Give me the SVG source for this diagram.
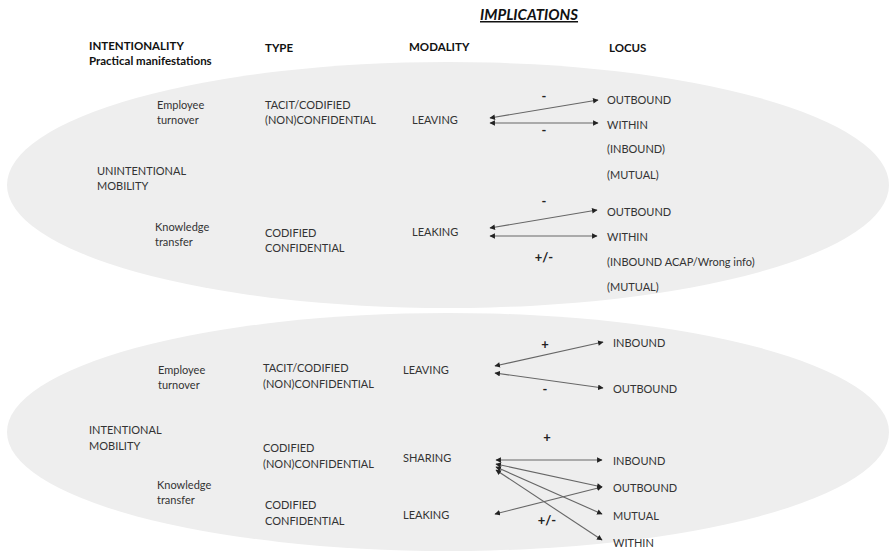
<svg xmlns="http://www.w3.org/2000/svg" width="889" height="559" viewBox="0 0 889 559">
  <style>
    .t { font-family: Lato, "Liberation Sans", sans-serif; font-size: 11px; fill: #333; }
    .h { font-family: Lato, "Liberation Sans", sans-serif; font-size: 11.5px; font-weight: bold; fill: #111; }
    .sign { font-family: Lato, "Liberation Sans", sans-serif; font-size: 13px; font-weight: bold; fill: #222; text-anchor: middle; }
    .zone { fill: #eeeeee; }
    .link { stroke: #666; stroke-width: 1.1; fill: none; marker-start: url(#head); marker-end: url(#head); }
  </style>
  <defs>
    <marker id="head" viewBox="0 0 10 10" refX="9" refY="5" markerWidth="6" markerHeight="5.5" markerUnits="userSpaceOnUse" orient="auto-start-reverse">
      <path d="M0,0 L10,5 L0,10 Z" fill="#222"/>
    </marker>
  </defs>

  <rect width="889" height="559" fill="#ffffff"/>

  <!-- mobility zones -->
  <g id="zone-unintentional">
    <ellipse class="zone" cx="448" cy="185" rx="441" ry="123"/>
  </g>
  <g id="zone-intentional">
    <ellipse class="zone" cx="448" cy="432" rx="441" ry="119"/>
  </g>

  <!-- column headers -->
  <g id="headers">
    <text x="480" y="20" font-family="Lato, 'Liberation Sans', sans-serif" font-size="15" font-weight="bold" font-style="italic" text-decoration="underline" fill="#111">IMPLICATIONS</text>
    <text class="h" x="89" y="50">INTENTIONALITY</text>
    <text class="h" x="89" y="65">Practical manifestations</text>
    <text class="h" x="265" y="52">TYPE</text>
    <text class="h" x="409" y="51">MODALITY</text>
    <text class="h" x="609" y="52">LOCUS</text>
  </g>

  <!-- unintentional mobility -->
  <g id="unintentional">
    <text class="t" x="97" y="175">UNINTENTIONAL</text>
    <text class="t" x="97" y="190">MOBILITY</text>
  </g>
  <g id="u-turnover">
    <text class="t" x="157" y="109">Employee</text>
    <text class="t" x="157" y="124">turnover</text>
    <text class="t" x="265" y="109">TACIT/CODIFIED</text>
    <text class="t" x="265" y="124">(NON)CONFIDENTIAL</text>
    <text class="t" x="412" y="124">LEAVING</text>
  </g>
  <g id="u-transfer">
    <text class="t" x="155" y="231">Knowledge</text>
    <text class="t" x="155" y="246">transfer</text>
    <text class="t" x="265" y="237">CODIFIED</text>
    <text class="t" x="265" y="252">CONFIDENTIAL</text>
    <text class="t" x="412" y="236">LEAKING</text>
  </g>
  <g id="u-locus">
    <text class="t" x="607" y="104">OUTBOUND</text>
    <text class="t" x="607" y="129">WITHIN</text>
    <text class="t" x="607" y="153">(INBOUND)</text>
    <text class="t" x="607" y="179">(MUTUAL)</text>
    <text class="t" x="607" y="216">OUTBOUND</text>
    <text class="t" x="607" y="241">WITHIN</text>
    <text class="t" x="607" y="266">(INBOUND ACAP/Wrong info)</text>
    <text class="t" x="607" y="291">(MUTUAL)</text>
  </g>

  <!-- intentional mobility -->
  <g id="intentional">
    <text class="t" x="89" y="434">INTENTIONAL</text>
    <text class="t" x="89" y="450">MOBILITY</text>
  </g>
  <g id="i-turnover">
    <text class="t" x="158" y="374">Employee</text>
    <text class="t" x="158" y="389">turnover</text>
    <text class="t" x="263" y="372">TACIT/CODIFIED</text>
    <text class="t" x="263" y="388">(NON)CONFIDENTIAL</text>
    <text class="t" x="403" y="374">LEAVING</text>
  </g>
  <g id="i-transfer">
    <text class="t" x="157" y="489">Knowledge</text>
    <text class="t" x="157" y="504">transfer</text>
    <text class="t" x="263" y="452">CODIFIED</text>
    <text class="t" x="263" y="468">(NON)CONFIDENTIAL</text>
    <text class="t" x="403" y="462">SHARING</text>
    <text class="t" x="265" y="509">CODIFIED</text>
    <text class="t" x="265" y="525">CONFIDENTIAL</text>
    <text class="t" x="403" y="519">LEAKING</text>
  </g>
  <g id="i-locus">
    <text class="t" x="613" y="347">INBOUND</text>
    <text class="t" x="613" y="393">OUTBOUND</text>
    <text class="t" x="613" y="465">INBOUND</text>
    <text class="t" x="613" y="492">OUTBOUND</text>
    <text class="t" x="613" y="520">MUTUAL</text>
    <text class="t" x="613" y="547">WITHIN</text>
  </g>

  <!-- connectors -->
  <g id="connectors">
    <line class="link" x1="490" y1="118" x2="598" y2="100"/>
    <line class="link" x1="490" y1="123" x2="598" y2="123"/>
    <line class="link" x1="490" y1="228" x2="597" y2="210"/>
    <line class="link" x1="490" y1="236" x2="597" y2="236"/>
    <line class="link" x1="495" y1="366" x2="603" y2="342"/>
    <line class="link" x1="495" y1="373" x2="603" y2="388"/>
    <line class="link" x1="496" y1="460" x2="602" y2="460"/>
    <line class="link" x1="496" y1="464" x2="602" y2="487"/>
    <line class="link" x1="496" y1="467" x2="602" y2="514"/>
    <line class="link" x1="496" y1="470" x2="602" y2="540"/>
    <line class="link" x1="495" y1="514" x2="602" y2="487"/>
  </g>

  <!-- effect signs -->
  <g id="signs">
    <text class="sign" x="544" y="101">-</text>
    <text class="sign" x="544" y="135">-</text>
    <text class="sign" x="544" y="206">-</text>
    <text class="sign" x="544" y="262" font-size="16">+/-</text>
    <text class="sign" x="545" y="349">+</text>
    <text class="sign" x="545" y="394">-</text>
    <text class="sign" x="547" y="442">+</text>
    <text class="sign" x="547" y="525" font-size="16">+/-</text>
  </g>
</svg>
